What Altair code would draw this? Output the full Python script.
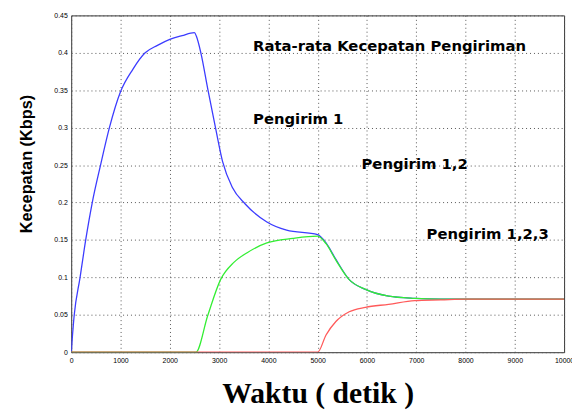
import altair as alt
import pandas as pd

# --- data ---
blue_t = [0, 60, 180, 294, 427, 595, 775, 1000, 1250, 1500, 1750, 2000, 2250, 2500,
          2540, 2630, 2770, 2930, 3070, 3270, 3530, 3970, 4370, 5000, 5170, 5370, 5640,
          5970, 6440, 6970, 7500, 8000, 9000, 10000]
blue_v = [0, 0.049, 0.1, 0.15, 0.2, 0.25, 0.3, 0.348, 0.378, 0.4, 0.41, 0.418, 0.423, 0.427,
          0.422, 0.4, 0.352, 0.299, 0.255, 0.22, 0.198, 0.174, 0.163, 0.157, 0.146, 0.124, 0.097,
          0.084, 0.075, 0.072, 0.071, 0.071, 0.071, 0.071]

green_t = [0, 2500, 2530, 2770, 3030, 3300, 3570, 3970, 4500, 5000, 5170, 5370, 5640,
           5970, 6440, 6970, 7500, 8000, 10000]
green_v = [0, 0, 0, 0.049, 0.097, 0.12, 0.133, 0.146, 0.152, 0.155, 0.145, 0.123, 0.097,
           0.084, 0.075, 0.072, 0.071, 0.071, 0.071]

red_t = [0, 5000, 5170, 5370, 5640, 5970, 6440, 6970, 7500, 8000, 10000]
red_v = [0, 0, 0.023, 0.041, 0.054, 0.06, 0.064, 0.069, 0.07, 0.071, 0.071]

series_names = ["Pengirim 1", "Pengirim 2", "Pengirim 3"]
series_colors = ["#3c3cff", "#33ee33", "#ff5a5a"]

y_ticks = [0, 0.05, 0.1, 0.15, 0.2, 0.25, 0.3, 0.35, 0.4, 0.45]
x_ticks = [0, 1000, 2000, 3000, 4000, 5000, 6000, 7000, 8000, 9000, 10000]

ann_text = ["Rata-rata Kecepatan Pengiriman", "Pengirim 1", "Pengirim 1,2", "Pengirim 1,2,3"]
ann_t = [3690, 3690, 5890, 7210]
ann_v = [0.402, 0.305, 0.245, 0.151]

rows = []
for name, ts, vs in zip(series_names, [blue_t, green_t, red_t], [blue_v, green_v, red_v]):
    for i, (t, v) in enumerate(zip(ts, vs)):
        rows.append({"series": name, "t": t, "v": v, "order": i})
df = pd.DataFrame(rows)
ann = pd.DataFrame({"text": ann_text, "t": ann_t, "v": ann_v})

x_scale = alt.Scale(domain=[0, 10000], nice=False, zero=False)
y_scale = alt.Scale(domain=[0, 0.45], nice=False)

x_axis = alt.Axis(values=x_ticks, format="d", title="Waktu ( detik )",
                  titleFont="Liberation Serif", titleFontSize=30, titleFontWeight="bold",
                  titleColor="black", titleBaseline="alphabetic", titleY=51,
                  labelFontSize=7, labelColor="black", labelPadding=4,
                  labelOverlap=False, labelFlush=False,
                  tickSize=0, grid=True, gridDash=[1, 3], gridColor="#555",
                  domain=False)
y_axis = alt.Axis(values=y_ticks, format=".2~f", title="Kecepatan (Kbps)",
                  titleFont="Liberation Sans", titleFontSize=16.5, titleFontWeight="bold",
                  titleColor="black", titleAngle=270, titleX=-45, titleY=150,
                  titleAlign="center", titleBaseline="middle",
                  labelFontSize=7, labelColor="black", labelPadding=4,
                  labelOverlap=False, labelFlush=False,
                  tickSize=0, grid=True, gridDash=[1, 3], gridColor="#555",
                  domain=False)

lines = alt.Chart(df).mark_line(strokeWidth=1.3, clip=True, interpolate="monotone").encode(
    x=alt.X("t:Q", scale=x_scale, axis=x_axis, title="Waktu ( detik )"),
    y=alt.Y("v:Q", scale=y_scale, axis=y_axis, title="Kecepatan (Kbps)"),
    color=alt.Color("series:N", scale=alt.Scale(domain=series_names, range=series_colors),
                    legend=None),
    order="order:Q",
)

texts = alt.Chart(ann).mark_text(
    align="left", baseline="alphabetic", font="DejaVu Sans", fontSize=15,
    fontWeight="bold", color="black"
).encode(
    x=alt.X("t:Q", scale=x_scale, axis=x_axis, title="Waktu ( detik )"),
    y=alt.Y("v:Q", scale=y_scale, axis=y_axis, title="Kecepatan (Kbps)"),
    text="text:N",
)

chart = alt.layer(lines, texts).properties(
    width=499, height=341,
    autosize=alt.AutoSizeParams(type="none"),
    padding={"left": 64, "top": 5, "right": 8, "bottom": 56},
).configure(font="Liberation Sans").configure_view(stroke="#333", strokeWidth=1)

chart.save("out.html", embed_options={"renderer": "svg", "actions": False})
